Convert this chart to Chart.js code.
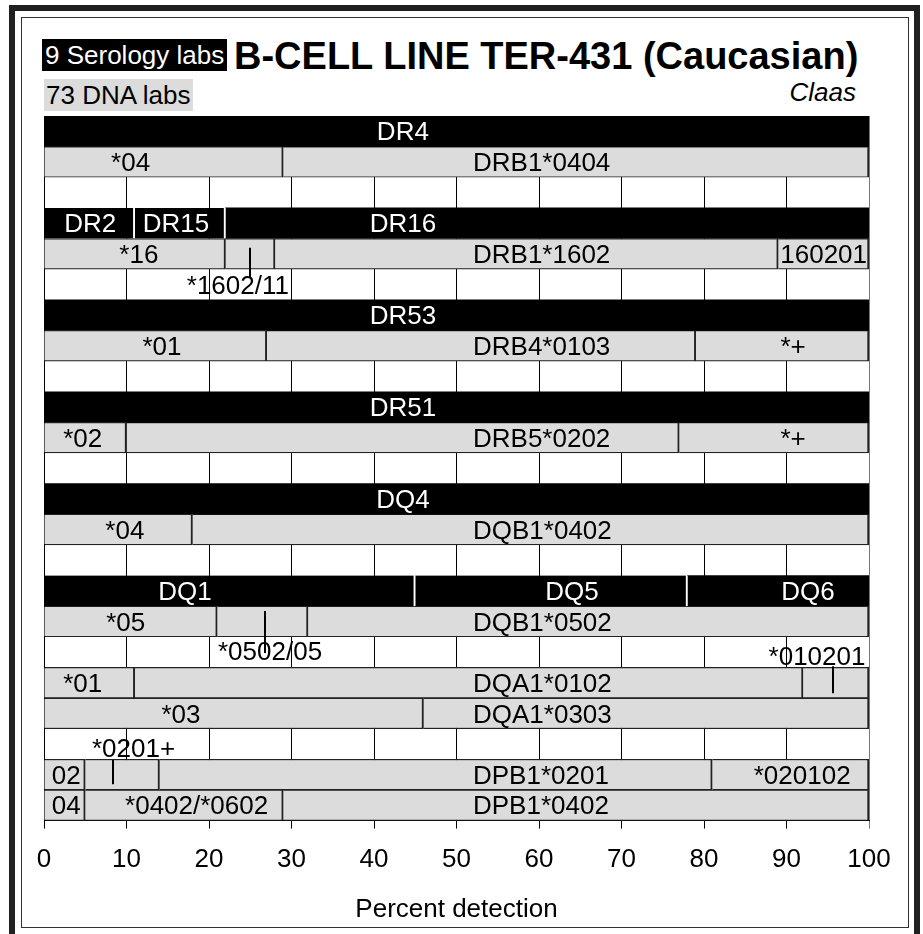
<!DOCTYPE html>
<html>
<head>
<meta charset="utf-8">
<script src="https://cdn.jsdelivr.net/npm/chart.js@4.4.1/dist/chart.umd.min.js"></script>
<style>
  html, body { margin: 0; padding: 0; background: #fff; }
  body { width: 923px; height: 934px; position: relative; overflow: hidden;
         font-family: "Liberation Sans", Arial, sans-serif; }
  .frame-out { position: absolute; left: 9px; top: 5px; width: 899px; height: 1000px;
               border: 6px solid #231f20; }
  .frame-in { position: absolute; left: 21px; top: 17px; width: 886px; height: 909px;
              border: 1px solid #333; }
  .sero { position: absolute; left: 42px; top: 39px; height: 32px; line-height: 32px;
          padding: 0 3px 0 3px; background: #000; color: #fff; font-size: 26px; }
  .title { position: absolute; left: 234px; top: 37px; line-height: 38px; font-size: 38px;
           font-weight: bold; color: #000; white-space: nowrap; }
  .dna { position: absolute; left: 44px; top: 79px; height: 32px; line-height: 32px;
         padding: 0 2px; background: #dcdcdc; color: #000; font-size: 26px; }
  .author { position: absolute; right: 67px; top: 76px; line-height: 32px; font-size: 26px;
            font-style: italic; color: #000; }
  canvas { position: absolute; left: 0; top: 0; }
</style>
</head>
<body>
<div class="frame-out"></div>
<div class="frame-in"></div>
<div class="sero">9 Serology labs</div>
<div class="title">B-CELL LINE TER-431 (Caucasian)</div>
<div class="dna">73 DNA labs</div>
<div class="author">Claas</div>
<canvas id="chart" width="923" height="934"></canvas>
<script>
// one category per horizontal band, top to bottom
const rows = [
  "DR4", "DRB1 (DR4)", "gap1",
  "DR2/DR15/DR16", "DRB1 (DR16)", "gap2",
  "DR53", "DRB4", "gap3",
  "DR51", "DRB5", "gap4",
  "DQ4", "DQB1 (DQ4)", "gap5",
  "DQ1/DQ5/DQ6", "DQB1 (DQ5)", "gap6",
  "DQA1 a", "DQA1 b", "gap7",
  "DPB1 a", "DPB1 b"
];
const rowKind = [
  "sero", "dna", "gap",
  "sero", "dna", "gap",
  "sero", "dna", "gap",
  "sero", "dna", "gap",
  "sero", "dna", "gap",
  "sero", "dna", "gap",
  "dna", "dna", "gap",
  "dna", "dna"
];

// percent detection, segment by segment (stacked left to right)
const seg1 = [100, 29, null, 11, 22, null, 100, 27, null, 100, 10, null, 100, 18, null, 45, 21, null, 11, 46, null, 5, 5];
const seg2 = [null, 71, null, 11, 6, null, null, 52, null, null, 67, null, null, 82, null, 33, 11, null, 81, 54, null, 9, 24];
const seg3 = [null, null, null, 78, 61, null, null, 21, null, null, 23, null, null, null, null, 22, 68, null, 8, null, null, 67, 71];
const seg4 = [null, null, null, null, 11, null, null, null, null, null, null, null, null, null, null, null, null, null, null, null, null, 19, null];
const segments = [seg1, seg2, seg3, seg4];

const xTicks = [0, 10, 20, 30, 40, 50, 60, 70, 80, 90, 100];

// text written on the bands: [row, percent, text, align]
const bandTexts = [
  [0, 43.5, "DR4", "center"],
  [1, 10.5, "*04", "center"], [1, 52, "DRB1*0404", "left"],
  [3, 5.6, "DR2", "center"], [3, 16, "DR15", "center"], [3, 43.5, "DR16", "center"],
  [4, 11.5, "*16", "center"], [4, 52, "DRB1*1602", "left"], [4, 94.5, "160201", "center"],
  [5, 23.5, "*1602/11", "center"],
  [6, 43.5, "DR53", "center"],
  [7, 14.3, "*01", "center"], [7, 52, "DRB4*0103", "left"], [7, 90.8, "*+", "center"],
  [9, 43.5, "DR51", "center"],
  [10, 4.7, "*02", "center"], [10, 52, "DRB5*0202", "left"], [10, 90.8, "*+", "center"],
  [12, 43.5, "DQ4", "center"],
  [13, 9.8, "*04", "center"], [13, 52, "DQB1*0402", "left"],
  [15, 17.1, "DQ1", "center"], [15, 64, "DQ5", "center"], [15, 92.6, "DQ6", "center"],
  [16, 9.9, "*05", "center"], [16, 52, "DQB1*0502", "left"],
  [16.95, 27.4, "*0502/05", "center"], [17.13, 93.7, "*010201", "center"],
  [18, 4.7, "*01", "center"], [18, 52, "DQA1*0102", "left"],
  [19, 16.6, "*03", "center"], [19, 52, "DQA1*0303", "left"],
  [20.13, 10.85, "*0201+", "center"],
  [21, 2.7, "02", "center"], [21, 52, "DPB1*0201", "left"], [21, 91.9, "*020102", "center"],
  [22, 2.7, "04", "center"], [22, 18.5, "*0402/*0602", "center"], [22, 52, "DPB1*0402", "left"]
];

// pointer lines from a sub-allele label to its slot: [percent, fromRow, toRow]
const pointers = [
  [25, 3.8, 4.77],
  [26.8, 15.66, 17.03],
  [95.6, 17.46, 18.34],
  [8.4, 20.52, 21.31]
];

Chart.defaults.font.family = '"Liberation Sans", Arial, sans-serif';
Chart.defaults.color = "#000";

const endsAtFull = (ctx) => {
  let sum = 0;
  for (let k = 0; k <= ctx.datasetIndex; k++) sum += segments[k][ctx.dataIndex] || 0;
  return sum >= 99.9;
};

const bandLabels = {
  id: "bandLabels",
  afterDatasetsDraw(chart) {
    const { ctx, scales } = chart;
    ctx.save();
    ctx.strokeStyle = "#000";
    ctx.lineWidth = 2;
    pointers.forEach(([v, r0, r1]) => {
      const x = Math.round(scales.x.getPixelForValue(v));
      ctx.beginPath();
      ctx.moveTo(x, scales.y.getPixelForValue(r0));
      ctx.lineTo(x, scales.y.getPixelForValue(r1));
      ctx.stroke();
    });
    ctx.font = '26px "Liberation Sans", Arial, sans-serif';
    ctx.textBaseline = "middle";
    bandTexts.forEach(([r, v, txt, align]) => {
      const kind = rowKind[Math.round(r)];
      ctx.fillStyle = kind === "sero" ? "#fff" : "#000";
      ctx.textAlign = align;
      ctx.fillText(txt, scales.x.getPixelForValue(v), scales.y.getPixelForValue(r) + 2);
    });
    ctx.restore();
  }
};

new Chart(document.getElementById("chart"), {
  type: "bar",
  data: {
    labels: rows,
    datasets: segments.map((seg, i) => ({
      label: "segment " + (i + 1),
      data: seg,
      backgroundColor: (ctx) => rowKind[ctx.dataIndex] === "sero" ? "#000" : "#dcdcdc",
      borderColor: (ctx) => rowKind[ctx.dataIndex] === "sero" ? "#fff" : "#222",
      borderWidth: (ctx) => {
        if (rowKind[ctx.dataIndex] === "sero") {
          return { top: 0, bottom: 0, left: 0, right: endsAtFull(ctx) ? 0 : 2 };
        }
        return { top: 1.2, bottom: 1.2, left: 0, right: 2 };
      },
      borderSkipped: "start",
      barPercentage: 1,
      categoryPercentage: 1
    }))
  },
  options: {
    indexAxis: "y",
    responsive: false,
    animation: false,
    layout: { padding: { left: 44, right: 54, top: 116, bottom: 9 } },
    plugins: { legend: { display: false }, tooltip: { enabled: false } },
    scales: {
      x: {
        stacked: true,
        min: 0,
        max: 100,
        afterBuildTicks: (axis) => { axis.ticks = xTicks.map((v) => ({ value: v })); },
        ticks: { font: { size: 26 }, padding: 16, color: "#000", maxRotation: 0 },
        grid: {
          color: (ctx) => ctx.tick && ctx.tick.value === 100 ? "#777" : "#000",
          lineWidth: 1,
          tickLength: 8
        },
        border: { display: true, color: "#000" },
        title: { display: true, text: "Percent detection", font: { size: 26 },
                 color: "#000", padding: { top: 2, bottom: 0 } }
      },
      y: { stacked: true, display: false }
    }
  },
  plugins: [bandLabels]
});
</script>
</body>
</html>
